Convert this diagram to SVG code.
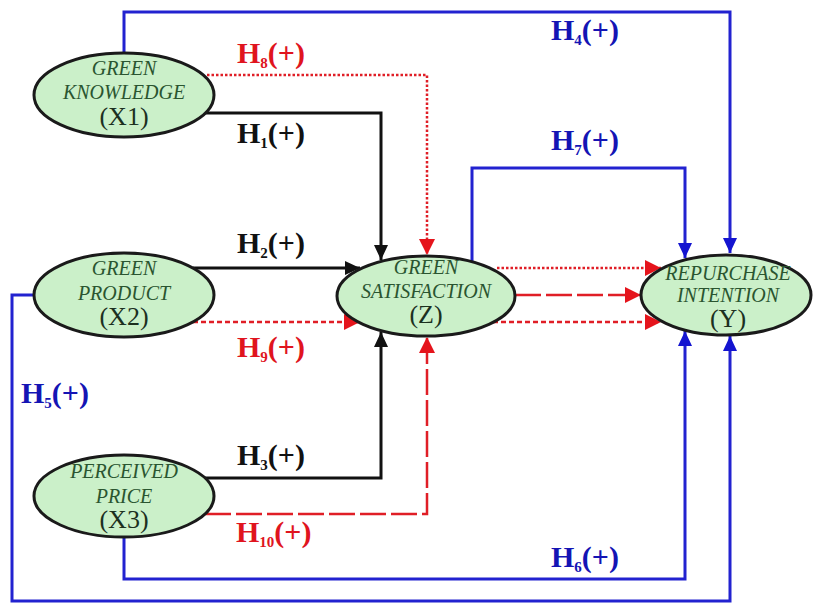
<svg xmlns="http://www.w3.org/2000/svg" width="813" height="603" viewBox="0 0 813 603">
<defs>
<style>
.node ellipse{fill:#cbf0c9;stroke:#1a1a1a;stroke-width:3}
.it{font-family:"Liberation Serif","Times New Roman",serif;font-style:italic;font-size:20px;fill:#2a5530;text-anchor:middle}
.cd{font-family:"Liberation Serif","Times New Roman",serif;font-size:26px;fill:#1c301f;text-anchor:middle}
.lbl{font-family:"Liberation Serif","Times New Roman",serif;font-weight:bold;font-size:30px}
.sub{font-size:15px}
.blue{fill:#1414b4}
.red{fill:#e0141e}
.black{fill:#111}
.c{fill:none}
.cb{stroke:#2222d0;stroke-width:3}
.ck{stroke:#111;stroke-width:3}
.cr{stroke:#e01e26;stroke-width:2.5}
.dot{stroke-dasharray:2.5,2}
.dash{stroke-dasharray:5,3}
.long{stroke-dasharray:26,5}
</style>
<marker id="ab" markerUnits="userSpaceOnUse" markerWidth="16" markerHeight="16" refX="15" refY="7" orient="auto"><path d="M0,0 L15,7 L0,14 Z" fill="#1414d0"/></marker>
<marker id="ak" markerUnits="userSpaceOnUse" markerWidth="16" markerHeight="16" refX="15" refY="7" orient="auto"><path d="M0,0 L15,7 L0,14 Z" fill="#111"/></marker>
<marker id="ar" markerUnits="userSpaceOnUse" markerWidth="18" markerHeight="18" refX="16" refY="8" orient="auto"><path d="M0,0 L16,8 L0,16 Z" fill="#e5141c"/></marker>
</defs>
<rect width="813" height="603" fill="#fff"/>
<g id="connectors" class="c">
<path class="c cb" d="M124,54 V12 H730 V253" marker-end="url(#ab)"/>
<path class="c cb" d="M472,262 V168 H685 V258" marker-end="url(#ab)"/>
<path class="c cb" d="M35,295 H12 V601 H730 V336" marker-end="url(#ab)"/>
<path class="c cb" d="M124,537 V579 H685 V331" marker-end="url(#ab)"/>
<path class="c ck" d="M205,113 H381 V260" marker-end="url(#ak)"/>
<path class="c ck" d="M193,268 H360" marker-end="url(#ak)"/>
<path class="c ck" d="M205,478 H381 V332" marker-end="url(#ak)"/>
<path class="c cr dot" d="M207,75 H427 V255" marker-end="url(#ar)"/>
<path class="c cr dash" d="M193,322 H360" marker-end="url(#ar)"/>
<path class="c cr long" d="M205,514 H427 V337" marker-end="url(#ar)"/>
<path class="c cr dot" d="M497,268 H661" marker-end="url(#ar)"/>
<path class="c cr long" d="M515,295 H641" marker-end="url(#ar)"/>
<path class="c cr dash" d="M493,322 H661" marker-end="url(#ar)"/>
</g>
<g id="X1" class="node">
<ellipse cx="124" cy="95" rx="90" ry="42"/>
<text class="it" x="124" y="75">GREEN</text>
<text class="it" x="124" y="99">KNOWLEDGE</text>
<text class="cd" x="124" y="125">(X1)</text>
</g>
<g id="X2" class="node">
<ellipse cx="124" cy="295" rx="90" ry="42"/>
<text class="it" x="124" y="275">GREEN</text>
<text class="it" x="124" y="300">PRODUCT</text>
<text class="cd" x="124" y="325">(X2)</text>
</g>
<g id="X3" class="node">
<ellipse cx="124" cy="496" rx="90" ry="41"/>
<text class="it" x="124" y="478">PERCEIVED</text>
<text class="it" x="124" y="503">PRICE</text>
<text class="cd" x="124" y="528">(X3)</text>
</g>
<g id="Z" class="node">
<ellipse cx="426" cy="296" rx="89" ry="40"/>
<text class="it" x="426" y="274">GREEN</text>
<text class="it" x="426" y="298">SATISFACTION</text>
<text class="cd" x="426" y="323">(Z)</text>
</g>
<g id="Y" class="node">
<ellipse cx="726" cy="295" rx="85" ry="40"/>
<text class="it" x="728" y="280">REPURCHASE</text>
<text class="it" x="728" y="302">INTENTION</text>
<text class="cd" x="728" y="327">(Y)</text>
</g>
<g id="labels">
<text class="lbl red" x="237" y="63">H<tspan class="sub" dy="5">8</tspan><tspan dy="-5">(+)</tspan></text>
<text class="lbl black" x="237" y="143">H<tspan class="sub" dy="5">1</tspan><tspan dy="-5">(+)</tspan></text>
<text class="lbl blue" x="551" y="40">H<tspan class="sub" dy="5">4</tspan><tspan dy="-5">(+)</tspan></text>
<text class="lbl blue" x="551" y="150">H<tspan class="sub" dy="5">7</tspan><tspan dy="-5">(+)</tspan></text>
<text class="lbl black" x="237" y="253">H<tspan class="sub" dy="5">2</tspan><tspan dy="-5">(+)</tspan></text>
<text class="lbl red" x="237" y="357">H<tspan class="sub" dy="5">9</tspan><tspan dy="-5">(+)</tspan></text>
<text class="lbl blue" x="21" y="403">H<tspan class="sub" dy="5">5</tspan><tspan dy="-5">(+)</tspan></text>
<text class="lbl black" x="237" y="465">H<tspan class="sub" dy="5">3</tspan><tspan dy="-5">(+)</tspan></text>
<text class="lbl red" x="236" y="542">H<tspan class="sub" dy="5">10</tspan><tspan dy="-5">(+)</tspan></text>
<text class="lbl blue" x="551" y="567">H<tspan class="sub" dy="5">6</tspan><tspan dy="-5">(+)</tspan></text>
</g>
</svg>
